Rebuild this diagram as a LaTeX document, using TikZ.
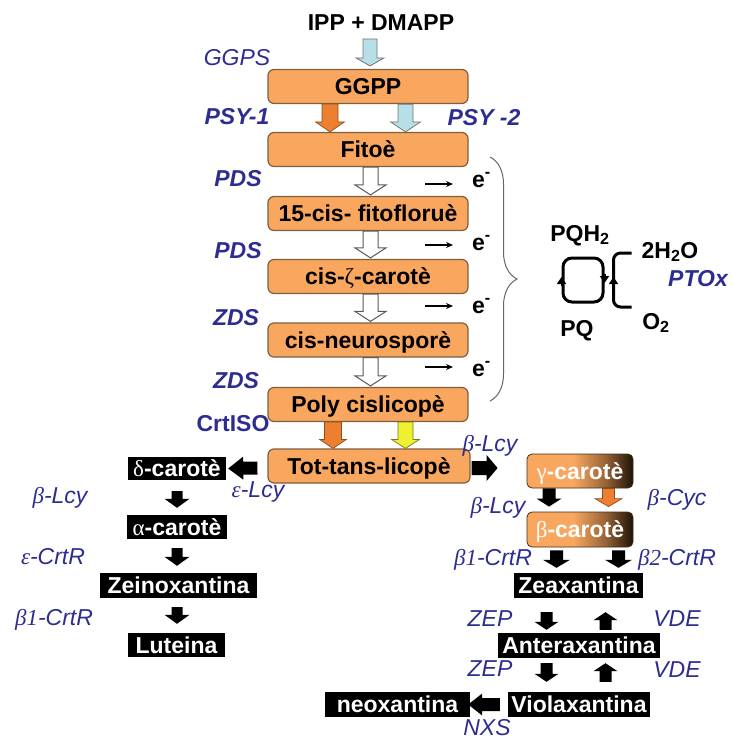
\documentclass[tikz,border=0pt]{standalone}
\usepackage{fontspec}
\setmainfont{Liberation Sans}
\newfontfamily\grk{Liberation Serif}
\usetikzlibrary{calc,arrows.meta,decorations.pathreplacing}
\definecolor{boxor}{RGB}{249,166,94}
\definecolor{boxline}{RGB}{125,95,65}
\definecolor{lblue}{RGB}{45,45,145}
\definecolor{arrowor}{RGB}{236,128,48}
\definecolor{arrlb}{RGB}{183,223,232}
\definecolor{arryel}{RGB}{240,240,50}
\definecolor{darkend}{RGB}{30,18,6}
\pgfdeclarehorizontalshading{orgdark}{100bp}{color(0bp)=(boxor); color(25bp)=(boxor); color(47bp)=(boxor); color(62bp)=(boxor!55!darkend); color(75bp)=(darkend); color(100bp)=(darkend)}
\newcommand\myfs{\fontsize{23}{25}\selectfont}
% block arrow: [style]{from}{to}{half shaft}{half head}{head length}
\newcommand\blk[6][]{%
  \path[#1] let \p1=(#2), \p2=(#3), \n1={veclen(\x2-\x1,\y2-\y1)},
    \n2={(\x2-\x1)/\n1}, \n3={(\y2-\y1)/\n1}, \n4={\n1-(#6)} in
  ({\x1-(\n3)*(#4)},{\y1+(\n2)*(#4)}) --
  ({\x1+(\n2)*(\n4)-(\n3)*(#4)},{\y1+(\n3)*(\n4)+(\n2)*(#4)}) --
  ({\x1+(\n2)*(\n4)-(\n3)*(#5)},{\y1+(\n3)*(\n4)+(\n2)*(#5)}) --
  (\p2) --
  ({\x1+(\n2)*(\n4)+(\n3)*(#5)},{\y1+(\n3)*(\n4)-(\n2)*(#5)}) --
  ({\x1+(\n2)*(\n4)+(\n3)*(#4)},{\y1+(\n3)*(\n4)-(\n2)*(#4)}) --
  ({\x1+(\n3)*(#4)},{\y1-(\n2)*(#4)}) -- cycle;}
\begin{document}
\begin{tikzpicture}[x=1pt,y=-1pt,
  every node/.style={font=\myfs},
  bt/.style={font=\myfs\bfseries, inner sep=0pt, text height=16.5pt, text depth=0pt},
  lab/.style={text=lblue, font=\myfs\itshape, inner sep=0pt, text height=16.5pt, text depth=0pt},
  blab/.style={lab, font=\myfs\bfseries\itshape},
  orbox/.style={draw=boxline, line width=1.2pt, fill=boxor, rounded corners=6pt,
    minimum width=200pt, minimum height=34pt, inner sep=0pt,
    font=\myfs\bfseries, text height=16.5pt, text depth=0pt},
  blkbox/.style={fill=black, text=white, font=\myfs\bfseries, inner sep=0pt,
    minimum height=25pt, text height=16.5pt, text depth=0pt},
  grbox/.style={shading=orgdark, draw=boxline!50!black, line width=0.8pt, rounded corners=5pt,
    text=white, font=\myfs\bfseries, minimum width=106pt, minimum height=34pt,
    inner sep=0pt, text height=16.5pt, text depth=0pt},
  blkA/.style={fill=black},
  orA/.style={fill=arrowor, draw=arrowor!60!black, line width=0.7pt},
  lbA/.style={fill=arrlb, draw=black!55, line width=0.8pt},
  yeA/.style={fill=arryel, draw=arryel!50!black, line width=0.7pt},
  whA/.style={fill=white, draw=black!65, line width=1pt},
  eline/.style={line width=1.1pt, -{Stealth[length=7pt,width=6pt]}, shorten >=19pt},
  cycl/.style={line width=3pt}
]
\useasboundingbox (0,0) rectangle (732,740);

% main column
\node[bt] (ipp) at (381,22) {IPP + DMAPP};
\node[orbox] (ggpp) at (368,86.5) {GGPP};
\node[orbox] (fito) at (368,149.5) {Fitoè};
\node[orbox] (f15) at (368,213.5) {15-cis- fitofloruè};
\node[orbox] (zeta) at (368,276.5) {cis-{\grk\mdseries ζ}-carotè};
\node[orbox] (neuro) at (368,340) {cis-neurosporè};
\node[orbox] (poly) at (368,404.5) {Poly cislicopè};
\node[orbox, minimum width=202pt] (tot) at (369,466) {Tot-tans-licopè};

% left branch
\node[blkbox, minimum width=98pt, minimum height=23pt] (delta) at (177,468.5) {{\grk\mdseries δ}-carotè};
\node[blkbox, minimum width=100pt, minimum height=24pt] (alpha) at (177,527) {{\grk\mdseries α}-carotè};
\node[blkbox, minimum width=157pt] (zein) at (178.5,585.5) {Zeinoxantina};
\node[blkbox, minimum width=97pt, minimum height=24pt] (lut) at (176.5,645) {Luteina};

% right branch
\node[grbox] (gamma) at (580,471) {{\grk\mdseries γ}-carotè};
\node[grbox, minimum height=35pt] (beta) at (580,529.5) {{\grk\mdseries β}-carotè};
\node[blkbox, minimum width=129pt] (zea) at (578.5,585.5) {Zeaxantina};
\node[blkbox, minimum width=162pt] (ant) at (579,645.5) {Anteraxantina};
\node[blkbox, minimum width=142pt] (vio) at (579,704.5) {Violaxantina};
\node[blkbox, minimum width=145pt] (neo) at (397.5,704.5) {neoxantina};

% block arrows, main column
\blk[lbA]{$(ggpp.north)+(2,-30)$}{$(ggpp.north)+(2,-3)$}{7}{14}{8}
\blk[orA]{$(ggpp.south)+(-38,0)$}{$(fito.north)+(-38,0)$}{8}{14.5}{10}
\blk[lbA]{$(ggpp.south)+(37.5,0)$}{$(fito.north)+(37.5,0)$}{7.5}{15}{10}
\blk[whA]{$(fito.south)+(2.5,0)$}{$(f15.north)+(2.5,-1)$}{7.5}{15.5}{10}
\blk[whA]{$(f15.south)+(2.5,0)$}{$(zeta.north)+(2.5,-1)$}{7.5}{15.5}{10}
\blk[whA]{$(zeta.south)+(2.5,0)$}{$(neuro.north)+(2.5,-1)$}{7.5}{15.5}{10}
\blk[whA]{$(neuro.south)+(2.5,0)$}{$(poly.north)+(2.5,-1)$}{7.5}{15.5}{10}
\blk[orA]{$(poly.south)+(-35,0)$}{$(tot.north)+(-36,0)$}{8.5}{13.5}{9}
\blk[yeA]{$(poly.south)+(37.5,0)$}{$(tot.north)+(36.5,0)$}{7.5}{14}{9}

% side arrows
\blk[blkA]{$(tot.west)+(-10,2)$}{$(delta.east)+(2,0)$}{6.5}{11.5}{15}
\blk[blkA]{$(tot.east)+(1,2)$}{$(gamma.west)+(-29,-3)$}{7}{13}{11}

% left column arrows
\blk[blkA]{$(delta.south)+(0,11)$}{$(alpha.north)+(0,-7)$}{5.5}{12.5}{9}
\blk[blkA]{$(alpha.south)+(0,9)$}{$(zein.north)+(-1.5,-7)$}{5.5}{12.5}{9}
\blk[blkA]{$(zein.south)+(-1.5,9)$}{$(lut.north)+(0.5,-9)$}{5.5}{12.5}{9}

% right column arrows
\blk[blkA]{$(gamma.south)+(-31,0)$}{$(beta.north)+(-31,-5)$}{6.5}{12.5}{8}
\blk[orA]{$(gamma.south)+(28.5,0)$}{$(beta.north)+(28.5,-5)$}{6}{13.5}{8}
\blk[blkA]{$(beta.south)+(-23.5,3)$}{$(zea.north)+(-22,-5)$}{6.5}{13.5}{8}
\blk[blkA]{$(beta.south)+(38.5,3)$}{$(zea.north)+(40,-5)$}{6.5}{13.5}{8}
\blk[blkA]{$(zea.south)+(-32,14)$}{$(ant.north)+(-32.5,-3)$}{6}{12}{8}
\blk[blkA]{$(ant.north)+(26.5,-3)$}{$(zea.south)+(27,14)$}{6}{12}{8}
\blk[blkA]{$(ant.south)+(-32.5,5)$}{$(vio.north)+(-32.5,-10)$}{6}{12}{8}
\blk[blkA]{$(vio.north)+(26.5,-10)$}{$(ant.south)+(26.5,5)$}{6}{12}{8}
\blk[blkA]{$(vio.west)+(-8,0)$}{$(neo.east)+(-2,0)$}{6.5}{11}{14}

% electrons
\node[font=\myfs\bfseries, inner sep=0pt, anchor=base west] (e1) at (472,187) {e\textsuperscript{-}};
\node[font=\myfs\bfseries, inner sep=0pt, anchor=base west] (e2) at (472,250) {e\textsuperscript{-}};
\node[font=\myfs\bfseries, inner sep=0pt, anchor=base west] (e3) at (472,313) {e\textsuperscript{-}};
\node[font=\myfs\bfseries, inner sep=0pt, anchor=base west] (e4) at (472,376) {e\textsuperscript{-}};
\coordinate (s1) at (425,184);
\coordinate (s2) at (425,245);
\coordinate (s3) at (425,306);
\coordinate (s4) at (425,367);
\draw[eline] (s1) -- (s1 -| e1.west);
\draw[eline] (s2) -- (s2 -| e2.west);
\draw[eline] (s3) -- (s3 -| e3.west);
\draw[eline] (s4) -- (s4 -| e4.west);

% brace
\coordinate (bt) at (490,157);
\coordinate (bb) at (490,401);
\draw[decorate, decoration={brace, amplitude=27pt, aspect=0.5}, draw=black!60, line width=1pt] (bt) -- (bb);

% PQ cycle
\node[draw, cycl, rounded corners=9pt, minimum width=40pt, minimum height=44pt, inner sep=0pt] (cyc) at (583,280) {};
\draw[line width=2pt, -{Triangle[length=7pt,width=9pt]}] ($(cyc.west)+(0,6)$) -- ($(cyc.west)+(0,-3)$);
\draw[line width=2pt, -{Triangle[length=7pt,width=9pt]}] ($(cyc.east)+(0,-6)$) -- ($(cyc.east)+(0,3)$);
\draw[cycl, rounded corners=7pt] ($(cyc.east)+(27,-27)$) -- ($(cyc.east)+(9,-27)$) -- ($(cyc.east)+(9,27)$) -- ($(cyc.east)+(27,27)$);
\draw[line width=2pt, -{Triangle[length=7pt,width=9pt]}] ($(cyc.east)+(9,6)$) -- ($(cyc.east)+(9,-3)$);
\node[bt] (pqh) at (580,233) {PQH\textsubscript{2}};
\node[bt] (pq) at (577,328) {PQ};
\node[bt] (h2o) at (670,250) {2H\textsubscript{2}O};
\node[bt] (o2) at (656,321) {O\textsubscript{2}};
\node[blab] (lptox) at (698,278) {PTOx};

% enzyme labels
\node[lab] (lggps) at (237,57) {GGPS};
\node[blab] (lpsy1) at (237,116) {PSY-1};
\node[blab] (lpsy2) at (484,117) {PSY -2};
\node[blab] (lpds1) at (238,178) {PDS};
\node[blab] (lpds2) at (238,250) {PDS};
\node[blab] (lzds1) at (236,317) {ZDS};
\node[blab] (lzds2) at (236,380) {ZDS};
\node[lab, font=\myfs\bfseries] (lcrt) at (233,423) {CrtISO};
\node[lab] (lblcy1) at (490,443) {{\grk β}-Lcy};
\node[lab] (lelcy) at (258,489) {{\grk ε}-Lcy};
\node[lab] (lblcy2) at (60,495) {{\grk β}-Lcy};
\node[lab] (lecrt) at (53,556) {{\grk ε}-CrtR};
\node[lab] (lb1crt) at (54,617) {{\grk β1}-CrtR};
\node[lab] (lblcy3) at (498,505) {{\grk β}-Lcy};
\node[lab] (lbcyc) at (677,497) {{\grk β}-Cyc};
\node[lab] (lb1crt2) at (493,557) {{\grk β1}-CrtR};
\node[lab] (lb2crt) at (677,557) {{\grk β2}-CrtR};
\node[lab] (lzep1) at (490,618) {ZEP};
\node[lab] (lvde1) at (677,618) {VDE};
\node[lab] (lzep2) at (490,668) {ZEP};
\node[lab] (lvde2) at (677,669) {VDE};
\node[lab] (lnxs) at (487,727) {NXS};
\end{tikzpicture}
\end{document}
